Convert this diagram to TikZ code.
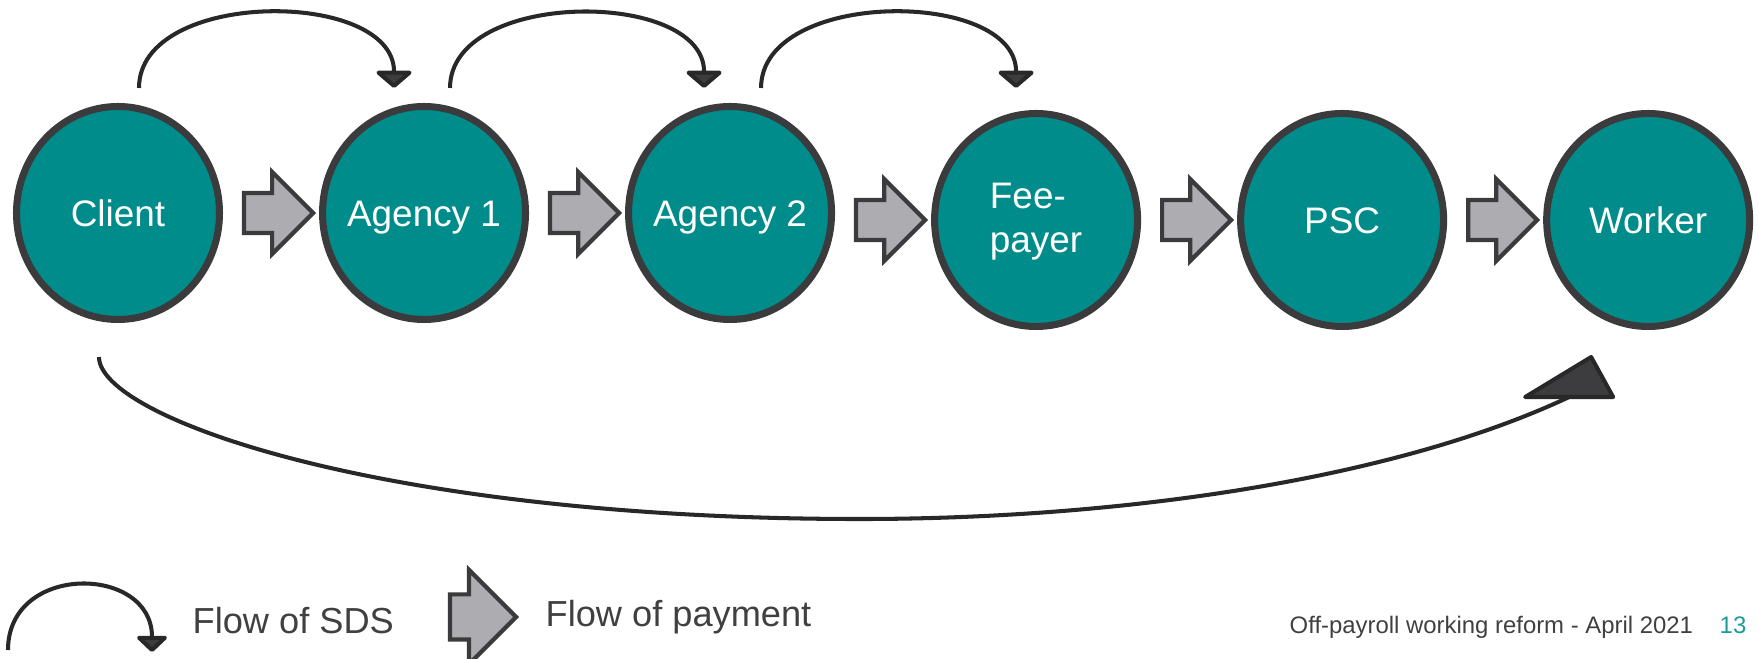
\documentclass[tikz,border=0pt]{standalone}
\usepackage{fontspec}
\setmainfont{Liberation Sans}
\usepackage{xcolor}
\definecolor{opwteal}{HTML}{008C8A}
\definecolor{opwring}{HTML}{3B3B3D}
\definecolor{opwpay}{HTML}{ADADB1}
\definecolor{opwsds}{HTML}{282828}
\definecolor{opwhead}{HTML}{3D3D3F}
\definecolor{opwtext}{HTML}{404040}
\definecolor{opwpage}{HTML}{1A9D99}
\usepackage{tikz}
\usetikzlibrary{arrows.meta,positioning,shapes.geometric,shapes.arrows,calc}

\begin{document}
\begin{tikzpicture}[node distance=5mm and 0.96cm,
  party/.style={ellipse,draw=opwring,line width=2pt,fill=opwteal,minimum width=2.03cm,minimum height=2.13cm,inner xsep=-0.3cm,inner ysep=0pt,text height=0.27cm,text depth=0pt,text=white,align=left,font=\fontsize{10.5}{12.6}\selectfont},
  payarrow/.style={single arrow,draw=opwring,line width=1.2pt,fill=opwpay,minimum height=0.69cm,inner xsep=0pt,inner ysep=0.178cm,single arrow head extend=0.21cm},
  sds/.style={draw=opwsds,line width=1.15pt,-{Triangle[length=0.18cm,width=0.41cm,round,fill=opwhead]}},
  legendtext/.style={anchor=base west,inner sep=0pt,text=opwtext,font=\fontsize{10.3}{12}\selectfont}]

\useasboundingbox (0,0) rectangle (17.58,-6.59);

% the chain of parties
\node[party] (client) at (1.18,-2.13) {Client};
\node[party,right=of client] (agency1) {Agency 1};
\node[party,right=of agency1] (agency2) {Agency 2};
\node[party,right=of agency2,yshift=-0.07cm,text height=0.66cm] (feepayer) {Fee-\\payer};
\node[party,right=of feepayer] (psc) {PSC};
\node[party,right=of psc] (worker) {Worker};

% payment passes down the chain
\node[payarrow,left=0.03cm of agency1] (pay1) {};
\node[payarrow,left=0.03cm of agency2] (pay2) {};
\node[payarrow,left=0.03cm of feepayer] (pay3) {};
\node[payarrow,left=0.03cm of psc] (pay4) {};
\node[payarrow,left=0.03cm of worker] (pay5) {};

% status determination statement
\draw[sds] ([xshift=0.21cm,yshift=0.15cm]client.north) to[out=90,in=90,looseness=1] ([xshift=-0.30cm,yshift=0.15cm]agency1.north);
\draw[sds] ([xshift=0.26cm,yshift=0.15cm]agency1.north) to[out=90,in=90,looseness=1] ([xshift=-0.26cm,yshift=0.15cm]agency2.north);
\draw[sds] ([xshift=0.31cm,yshift=0.15cm]agency2.north) to[out=90,in=90,looseness=1] ([xshift=-0.20cm,yshift=0.22cm]feepayer.north);

% client straight to worker, head drawn by hand
\coordinate (bigend) at ([xshift=-0.79cm,yshift=-0.67cm]worker.south);
\draw[draw=opwsds,line width=1.15pt] ([xshift=-0.19cm,yshift=-0.34cm]client.south) .. controls +(0,-0.6) and +(-4.8,0) .. ++(7.61,-1.62) .. controls +(2.5,0) and +(-1.81,-0.85) .. (bigend);
\filldraw[fill=opwhead,draw=opwsds,line width=1.15pt,line join=round] ([xshift=-0.44cm]bigend) -- ([xshift=0.44cm]bigend) -- ([xshift=0.22cm,yshift=0.40cm]bigend) -- cycle;

% key
\draw[sds,-{Triangle[length=0.17cm,width=0.35cm,round,fill=opwhead]}] (0.08,-6.50) to[out=90,in=90,looseness=1.55] (1.52,-6.52);
\node[legendtext] (sdslabel) at (1.92,-6.34) {Flow of SDS};
\node[payarrow,minimum height=0.66cm,inner ysep=0.205cm,single arrow head extend=0.245cm,anchor=east] (paykey) at (5.19,-6.17) {};
\node[legendtext] (paylabel) at (5.45,-6.27) {Flow of payment};

% footer
\node[anchor=base west,inner sep=0pt,text=opwtext,font=\fontsize{6.8}{8}\selectfont] (footer) at (12.89,-6.34) {Off-payroll working reform - April 2021};
\node[anchor=base west,inner sep=0pt,text=opwpage,font=\fontsize{6.8}{8}\selectfont] (pageno) at (17.19,-6.34) {13};
\end{tikzpicture}
\end{document}
